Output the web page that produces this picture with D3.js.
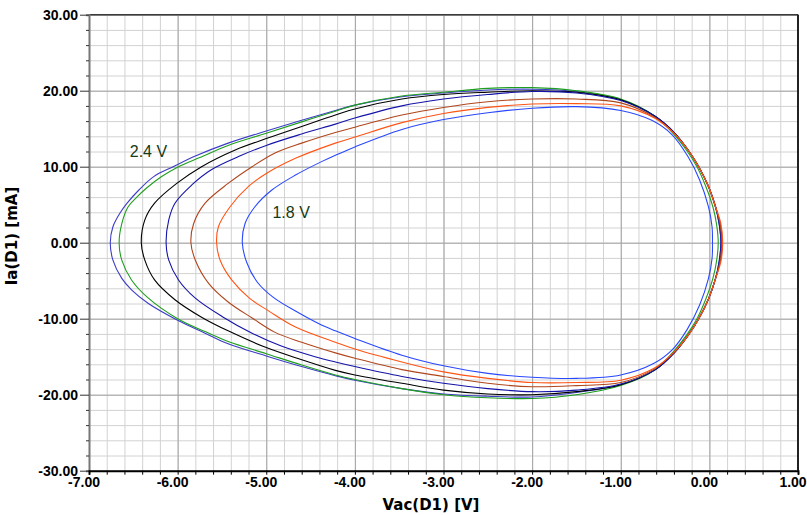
<!DOCTYPE html>
<html>
<head>
<meta charset="utf-8">
<script src="https://cdn.jsdelivr.net/npm/d3@7"></script>
<style>
  body { margin: 0; background: #fff; }
  .tickLabel { font-family: "Liberation Sans", Arial, sans-serif; font-weight: bold; font-size: 14px; fill: #000; }
  .aText { font-family: "DejaVu Sans", sans-serif; font-weight: bold; font-size: 15px; fill: #000; }
  .curveLabel { font-family: "Liberation Sans", Arial, sans-serif; font-size: 16px; fill: #163a16; }
</style>
</head>
<body>
<div id="plot"></div>
<script>
// loops, [Vac (V), Ia (mA)], going round clockwise from the left tip
var curve24 = [[-6.76,0],[-6.73,2.1],[-6.65,3.9],[-6.57,5.2],[-6.44,6.9],[-6.27,8.7],[-6.05,10.0],[-5.80,11.4],[-5.43,13.1],[-5.0,14.7],[-4.60,16.1],[-4.22,17.4],[-4.0,18.1],[-3.47,19.2],[-3.0,19.7],[-2.5,20.1],[-2.0,20.2],[-1.5,19.9],[-1.0,18.8],[-0.61,16.6],[-0.39,14.4],[-0.24,12.2],[-0.12,10.0],[-0.01,7.4],[0.07,4.7],[0.11,2.5],[0.13,0],
  [0.11,-2.5],[0.07,-4.7],[-0.01,-7.4],[-0.12,-10.0],[-0.24,-12.2],[-0.39,-14.4],[-0.61,-16.7],[-1.0,-18.7],[-1.5,-19.7],[-2.0,-20.3],[-2.5,-20.2],[-3.0,-19.9],[-3.47,-19.2],[-4.0,-18.1],[-4.22,-17.5],[-4.60,-16.3],[-5.0,-14.9],[-5.43,-13.3],[-5.69,-11.9],[-6.0,-10.2],[-6.33,-8.0],[-6.52,-6.2],[-6.63,-4.7],[-6.73,-2.3]];
var curve23 = [[-6.66,0],[-6.63,2.5],[-6.56,4.7],[-6.46,6.0],[-6.35,7.2],[-6.18,8.7],[-5.99,10.0],[-5.75,11.2],[-5.43,12.8],[-5.0,14.4],[-4.60,15.9],[-4.22,17.3],[-4.0,18.1],[-3.47,19.3],[-3.0,19.8],[-2.5,20.3],[-2.0,20.4],[-1.5,20.0],[-1.0,18.9],[-0.62,16.7],[-0.41,14.4],[-0.26,12.2],[-0.14,10.0],[-0.04,7.4],[0.04,4.7],[0.08,2.5],[0.10,0],
  [0.08,-2.5],[0.04,-4.7],[-0.04,-7.4],[-0.14,-10.0],[-0.26,-12.2],[-0.41,-14.4],[-0.62,-16.8],[-1.0,-18.8],[-1.5,-20.0],[-2.0,-20.5],[-2.5,-20.4],[-3.0,-20.0],[-3.47,-19.2],[-4.0,-18.0],[-4.22,-17.4],[-4.60,-16.1],[-5.0,-14.6],[-5.43,-13.0],[-5.69,-11.7],[-6.0,-10.0],[-6.33,-7.3],[-6.52,-4.9],[-6.63,-2.3]];
var curve22 = [[-6.41,0],[-6.37,3.0],[-6.26,5.2],[-6.01,7.8],[-5.73,10.0],[-5.35,12.2],[-5.0,13.7],[-4.60,15.3],[-4.22,16.8],[-4.0,17.6],[-3.47,18.9],[-3.0,19.5],[-2.5,19.8],[-2.0,20.0],[-1.5,19.8],[-1.0,18.8],[-0.61,16.6],[-0.39,14.4],[-0.24,12.2],[-0.12,10.0],[-0.01,7.4],[0.07,4.7],[0.12,2.5],[0.14,0],
  [0.12,-2.5],[0.07,-4.7],[-0.01,-7.4],[-0.12,-10.0],[-0.24,-12.2],[-0.39,-14.4],[-0.61,-16.7],[-1.0,-18.7],[-1.5,-19.6],[-2.0,-20.0],[-2.5,-19.9],[-3.0,-19.4],[-3.47,-18.5],[-4.0,-17.4],[-4.22,-16.8],[-4.60,-15.4],[-5.0,-13.8],[-5.43,-11.6],[-5.73,-9.8],[-6.03,-7.5],[-6.26,-4.9],[-6.37,-2.3]];
var curve21 = [[-6.13,0],[-6.10,3.0],[-6.03,5.2],[-5.84,7.6],[-5.62,9.6],[-5.28,11.5],[-5.0,12.8],[-4.60,14.3],[-4.22,15.6],[-4.0,16.4],[-3.47,18.0],[-3.0,18.9],[-2.5,19.5],[-2.0,19.9],[-1.5,19.7],[-1.0,18.7],[-0.61,16.6],[-0.39,14.4],[-0.24,12.2],[-0.12,10.0],[-0.01,7.4],[0.07,4.7],[0.11,2.5],[0.13,0],
  [0.11,-2.5],[0.07,-4.7],[-0.01,-7.4],[-0.12,-10.0],[-0.24,-12.2],[-0.39,-14.4],[-0.61,-16.7],[-1.0,-18.6],[-1.5,-19.4],[-2.0,-19.6],[-2.5,-19.2],[-3.0,-18.5],[-3.47,-17.6],[-4.0,-16.3],[-4.22,-15.7],[-4.45,-15.0],[-4.83,-13.6],[-5.16,-11.9],[-5.50,-9.7],[-5.80,-7.3],[-5.99,-4.9],[-6.10,-2.3]];
var curve20 = [[-5.85,0],[-5.82,2.5],[-5.69,5.2],[-5.43,7.8],[-5.16,10.0],[-4.90,11.8],[-4.60,13.1],[-4.22,14.5],[-4.0,15.2],[-3.47,16.8],[-3.0,17.8],[-2.5,18.55],[-2.0,18.9],[-1.5,18.9],[-1.0,18.4],[-0.62,16.5],[-0.39,14.3],[-0.24,12.2],[-0.12,10.0],[-0.01,7.4],[0.07,4.7],[0.12,2.5],[0.14,0],
  [0.12,-2.5],[0.07,-4.7],[-0.01,-7.4],[-0.12,-10.0],[-0.24,-12.2],[-0.39,-14.3],[-0.62,-16.6],[-1.0,-18.4],[-1.5,-18.8],[-2.0,-18.95],[-2.5,-18.5],[-3.0,-17.6],[-3.47,-16.7],[-4.0,-15.2],[-4.22,-14.5],[-4.60,-13.1],[-4.90,-11.8],[-5.16,-9.9],[-5.43,-7.8],[-5.65,-5.35],[-5.80,-2.3]];
var curve19 = [[-5.56,0],[-5.54,2.1],[-5.41,4.7],[-5.20,7.4],[-5.0,9.1],[-4.67,11.1],[-4.22,13.1],[-4.0,13.9],[-3.47,15.8],[-3.0,17.0],[-2.5,17.8],[-2.0,18.25],[-1.5,18.3],[-1.0,18.0],[-0.62,16.4],[-0.39,14.3],[-0.24,12.2],[-0.12,10.0],[-0.01,7.4],[0.07,4.7],[0.13,2.5],[0.15,0],
  [0.13,-2.5],[0.07,-4.7],[-0.01,-7.4],[-0.12,-10.0],[-0.24,-12.2],[-0.39,-14.3],[-0.62,-16.5],[-1.0,-18.1],[-1.5,-18.4],[-2.0,-18.4],[-2.5,-17.85],[-3.0,-17.0],[-3.47,-15.7],[-4.0,-14.0],[-4.22,-13.1],[-4.67,-11.1],[-4.97,-9.0],[-5.19,-7.3],[-5.39,-4.9],[-5.52,-2.3]];
var curve18 = [[-5.27,0],[-5.24,2.5],[-5.13,4.7],[-4.94,6.9],[-4.67,8.9],[-4.37,10.7],[-4.22,11.5],[-4.0,12.6],[-3.47,14.9],[-3.0,16.2],[-2.5,17.1],[-2.0,17.7],[-1.5,17.9],[-1.0,17.4],[-0.65,16.1],[-0.42,14.2],[-0.24,11.3],[-0.11,8.25],[-0.01,4.7],[0.03,2.1],[0.035,0],
  [0.03,-2.1],[-0.01,-4.7],[-0.11,-8.2],[-0.25,-11.4],[-0.42,-14.1],[-0.63,-15.9],[-1.0,-17.4],[-1.5,-17.85],[-2.0,-17.7],[-2.5,-17.2],[-3.0,-16.2],[-3.47,-14.8],[-4.0,-12.6],[-4.22,-11.6],[-4.40,-10.7],[-4.67,-9.0],[-4.92,-7.2],[-5.10,-5.2],[-5.22,-2.6]];

var curves = [curve24, curve23, curve22, curve21, curve20, curve19, curve18];
var curveColors = ["#3c3cc8", "#1e9e1e", "#000000", "#1414a8", "#b0461c", "#ff5414", "#2848ff"];

var xTicks = [-7, -6, -5, -4, -3, -2, -1, 0, 1];
var yTicks = [30, 20, 10, 0, -10, -20, -30];
var labelTexts = ["2.4 V", "1.8 V"];
var labelSpots = [[-6.54, 11.3], [-4.93, 3.2]];

var svgWidth = 807;
var svgHeight = 515;
var margin = { top: 14.7, right: 9, bottom: 44.3, left: 89 };
var width = svgWidth - margin.left - margin.right;
var height = svgHeight - margin.top - margin.bottom;

var svg = d3.select("#plot")
  .append("svg")
  .attr("width", svgWidth)
  .attr("height", svgHeight);

var chartGroup = svg.append("g")
  .attr("transform", `translate(${margin.left}, ${margin.top})`);

// scales
var xLinearScale = d3.scaleLinear().domain([-7, 1]).range([0, width]);
var yLinearScale = d3.scaleLinear().domain([-30, 30]).range([height, 0]);

// grid: minor every 0.2 V / 2 mA, major every 1 V / 10 mA
var xMinor = d3.range(-7, 1.001, 0.2).map(d => +d.toFixed(1));
var yMinor = d3.range(-30, 30.001, 2);

chartGroup.append("g")
  .attr("class", "grid")
  .attr("transform", `translate(0, ${height})`)
  .call(d3.axisBottom(xLinearScale).tickValues(xMinor).tickSize(-height).tickFormat(""))
  .call(g => g.select(".domain").remove())
  .call(g => g.selectAll("line").attr("stroke", "#d2d2d2"));

chartGroup.append("g")
  .attr("class", "grid")
  .call(d3.axisLeft(yLinearScale).tickValues(yMinor).tickSize(-width).tickFormat(""))
  .call(g => g.select(".domain").remove())
  .call(g => g.selectAll("line").attr("stroke", "#d2d2d2"));

chartGroup.append("g")
  .attr("transform", `translate(0, ${height})`)
  .call(d3.axisBottom(xLinearScale).tickValues(xTicks).tickSize(-height).tickFormat(""))
  .call(g => g.select(".domain").remove())
  .call(g => g.selectAll("line").attr("stroke", "#a4a4a4"));

chartGroup.append("g")
  .call(d3.axisLeft(yLinearScale).tickValues(yTicks).tickSize(-width).tickFormat(""))
  .call(g => g.select(".domain").remove())
  .call(g => g.selectAll("line").attr("stroke", "#a4a4a4"));

// curves
chartGroup.append("clipPath")
  .attr("id", "plotClip")
  .append("rect")
  .attr("width", width)
  .attr("height", height);

var loop = d3.line()
  .x(d => xLinearScale(d[0]))
  .y(d => yLinearScale(d[1]))
  .curve(d3.curveCatmullRomClosed.alpha(0.5));

chartGroup.append("g")
  .attr("clip-path", "url(#plotClip)")
  .selectAll("path")
  .data(curves)
  .enter()
  .append("path")
  .attr("d", loop)
  .attr("fill", "none")
  .attr("stroke", (d, i) => curveColors[i])
  .attr("stroke-width", 1.1);

chartGroup.selectAll(".curveLabel")
  .data(labelTexts)
  .enter()
  .append("text")
  .attr("class", "curveLabel")
  .attr("x", (d, i) => xLinearScale(labelSpots[i][0]))
  .attr("y", (d, i) => yLinearScale(labelSpots[i][1]))
  .text(d => d);

// frame
chartGroup.append("line")
  .attr("x1", 0).attr("x2", width).attr("y1", 0).attr("y2", 0)
  .attr("stroke", "#3a3a3a").attr("stroke-width", 1.5);
chartGroup.append("line")
  .attr("x1", width).attr("x2", width).attr("y1", 0).attr("y2", height)
  .attr("stroke", "#222").attr("stroke-width", 2);

// axes
var leftAxis = d3.axisLeft(yLinearScale)
  .tickValues(yMinor)
  .tickSize(3)
  .tickFormat(d => yTicks.includes(d) ? d.toFixed(2) : "");

chartGroup.append("g")
  .attr("class", "y_axis")
  .call(leftAxis)
  .call(g => g.select(".domain").attr("stroke", "#777").attr("stroke-width", 2))
  .call(g => g.selectAll(".tick line").attr("stroke", "#333").attr("x2", d => yTicks.includes(d) ? -9 : -3))
  .call(g => g.selectAll(".tick text").attr("class", "tickLabel").attr("x", -11));

var bottomAxis = d3.axisBottom(xLinearScale)
  .tickValues(xMinor)
  .tickSize(4)
  .tickFormat(d => xTicks.includes(d) ? d.toFixed(2) : "");

// labels sit a little left of their ticks in the original
chartGroup.append("g")
  .attr("class", "x_axis")
  .attr("transform", `translate(0, ${height})`)
  .call(bottomAxis)
  .call(g => g.select(".domain").attr("stroke", "#000").attr("stroke-width", 2))
  .call(g => g.selectAll(".tick line").attr("stroke", "#000"))
  .call(g => g.selectAll(".tick text").attr("class", "tickLabel").attr("y", 6).attr("dx", -5.5));

// axis titles
chartGroup.append("text")
  .attr("class", "aText")
  .attr("transform", `translate(${17 - margin.left}, ${236 - margin.top}) rotate(-90)`)
  .attr("text-anchor", "middle")
  .text("Ia(D1) [mA]");

chartGroup.append("text")
  .attr("class", "aText")
  .attr("x", 431 - margin.left)
  .attr("y", 510 - margin.top)
  .attr("text-anchor", "middle")
  .text("Vac(D1) [V]");
</script>
</body>
</html>
